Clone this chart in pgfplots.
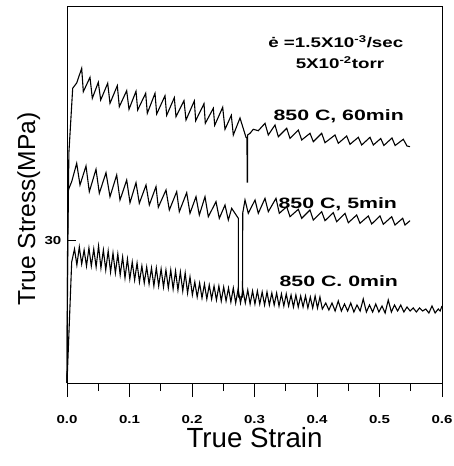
\documentclass[border=0pt]{standalone}
\usepackage{fontspec}
\setmainfont{Liberation Sans}
\usepackage{graphicx}
\usepackage{pgfplots}
\pgfplotsset{compat=1.18}
\newcommand{\wb}[1]{\scalebox{1.42}[1]{\fontsize{15}{17}\selectfont\bfseries #1}}
\newcommand{\wc}[1]{\scalebox{1.34}[1]{\fontsize{14}{16}\selectfont\bfseries #1}}
\newcommand{\tl}[1]{\scalebox{1.3}[1]{\fontsize{11.6}{13}\selectfont\bfseries #1}}
\begin{document}
\begin{tikzpicture}
\path[use as bounding box] (0,0) rectangle (454pt,466pt);
\begin{axis}[
  at={(67pt,83pt)}, anchor=south west,
  scale only axis, width=375pt, height=376pt,
  xmin=0, xmax=0.6, ymin=0, ymax=376,
  clip=false,
  axis line style={line width=1pt},
  tick align=outside,
  major tick length=14pt, minor tick length=8pt,
  tick style={black, line width=0.8pt},
  xtick={0,0.1,0.2,0.3,0.4,0.5,0.6},
  xticklabels={\tl{0.0},\tl{0.1},\tl{0.2},\tl{0.3},\tl{0.4},\tl{0.5},\tl{0.6}},
  minor xtick={0.05,0.15,0.25,0.35,0.45,0.55},
  xtick pos=left,
  ytick=\empty,
  xticklabel style={anchor=base, yshift=-26pt},
  xlabel={True Strain},
  xlabel style={font=\fontsize{27.7}{30}\selectfont, at={(axis description cs:0.5,0)}, anchor=base, yshift=-64pt},
  ylabel={True Stress(MPa)},
  ylabel style={font=\fontsize{24.6}{28}\selectfont, at={(axis description cs:-0.0853,0.4628)}, anchor=base},
]
% 850 C, 60 min
\addplot[black, line width=1.1pt] coordinates {
(0,0) (0.001,120) (0.003,230) (0.0091,294.7) (0.0155,300) (0.0235,314.7)
(0.0261,291.3) (0.0368,305.7) (0.0405,284.7) (0.0501,300.7) (0.0539,283) (0.0651,299.7) (0.0688,279.7)
(0.0805,297.3) (0.0837,276.3) (0.0955,292.3) (0.0992,273.7) (0.1104,291.7) (0.1131,273) (0.1259,289.7)
(0.1285,269.7) (0.1408,289.7) (0.1435,269) (0.1568,287.3) (0.1595,267.7) (0.1717,285.3) (0.1744,266.3)
(0.1872,282.3) (0.1904,263) (0.2037,282) (0.2059,262.3) (0.2192,279.3) (0.2213,259.7) (0.2341,274.7)
(0.2363,257.7) (0.2491,275.7) (0.2528,253.7) (0.2629,267.7) (0.2661,248) (0.2768,265) (0.2864,245.7)
(0.2880,245) (0.2882,201) (0.2888,201) (0.2890,248) (0.2928,249.7) (0.2981,253.7) (0.3061,252.3)
(0.3168,259.7) (0.3221,248) (0.3328,258) (0.3381,246.3) (0.3515,254.7) (0.3568,244.7) (0.3701,253)
(0.3755,243) (0.3888,249.7) (0.3941,241.3) (0.4075,249.7) (0.4128,240.3) (0.4288,248) (0.4341,239.7)
(0.4475,247) (0.4528,238.7) (0.4661,245.7) (0.4715,238) (0.4848,245.7) (0.4901,238) (0.5020,244.5)
(0.5070,237.5) (0.5200,245) (0.5250,237.5) (0.5381,243.7) (0.5440,237) (0.5488,236.3)
};
% 850 C, 5 min
\addplot[black, line width=1.1pt] coordinates {
(0,0) (0.001,150) (0.002,193) (0.0075,201.3) (0.0155,219.7) (0.0208,198) (0.0304,217) (0.0357,191.3)
(0.0464,213.7) (0.0517,189.7) (0.0624,210.3) (0.0688,186.3) (0.0795,208) (0.0848,183) (0.0955,203)
(0.1008,180.3) (0.1104,200.3) (0.1157,179.7) (0.1264,198) (0.1317,178) (0.1424,196.3) (0.1461,175.7)
(0.1584,193) (0.1637,173) (0.1755,191.3) (0.1797,171.3) (0.1915,190.3) (0.1968,169.7) (0.2064,186.3)
(0.2117,168) (0.2208,186.3) (0.2261,166.3) (0.2384,181.3) (0.2437,164.7) (0.2528,178) (0.2581,163)
(0.2635,174.7) (0.2741,164.7) (0.2743,86) (0.2808,86) (0.2812,170) (0.2848,183) (0.2901,169.7)
(0.3008,183) (0.3061,169.7) (0.3168,184.7) (0.3221,171.3) (0.3344,184.7) (0.3397,169.7) (0.3515,176.3)
(0.3568,166.3) (0.3701,173.7) (0.3755,164.7) (0.3888,173) (0.3941,163) (0.4075,171.3) (0.4128,162.3)
(0.4261,170.3) (0.4315,161.3) (0.4448,169.7) (0.4501,160.3) (0.4635,168) (0.4688,159.7) (0.4821,167)
(0.4875,159) (0.5008,167) (0.5061,158.7) (0.5195,166.3) (0.5248,158) (0.5371,164.7) (0.5408,158)
(0.5488,162.3)
};
% 850 C, 0 min
\addplot[black, line width=1.1pt] coordinates {
(0,0) (0.0075,121) (0.0120,134) (0.0158,118) (0.0197,136) (0.0235,119) (0.0274,133) (0.0312,117)
(0.0351,135) (0.0389,117) (0.0428,134) (0.0466,116) (0.0505,137) (0.0543,115) (0.0582,133) (0.0620,113)
(0.0659,132) (0.0697,111) (0.0736,130) (0.0774,110) (0.0813,129) (0.0851,108) (0.0890,126) (0.0928,105)
(0.0967,124) (0.1005,104) (0.1044,121) (0.1082,103) (0.1121,120) (0.1159,101) (0.1198,117) (0.1236,100)
(0.1275,116) (0.1313,99) (0.1352,115) (0.1390,97) (0.1429,115) (0.1467,97) (0.1506,114) (0.1544,96)
(0.1583,113) (0.1621,95) (0.1660,113) (0.1698,94) (0.1737,112) (0.1775,93) (0.1814,111) (0.1852,92)
(0.1891,110) (0.1929,90) (0.1968,106) (0.2006,88) (0.2045,101) (0.2083,86) (0.2122,100) (0.2160,85)
(0.2199,99) (0.2237,84) (0.2276,98) (0.2314,84) (0.2353,97) (0.2391,83) (0.2430,97) (0.2468,82)
(0.2507,96) (0.2545,82) (0.2584,95) (0.2622,81) (0.2661,95) (0.2699,80) (0.2738,94) (0.2776,80)
(0.2815,93) (0.2853,80) (0.2892,93) (0.2930,79) (0.2969,92) (0.3007,79) (0.3046,92) (0.3084,79)
(0.3123,91) (0.3161,78) (0.3200,91) (0.3238,78) (0.3277,90) (0.3315,78) (0.3354,90) (0.3392,77)
(0.3431,89) (0.3469,77) (0.3508,89) (0.3546,77) (0.3585,88) (0.3623,76) (0.3662,88) (0.3700,76)
(0.3739,87) (0.3777,76) (0.3816,87) (0.3854,75) (0.3893,86) (0.3931,75) (0.3970,87) (0.4008,75)
(0.4047,86) (0.4085,74) (0.4140,80) (0.4190,73) (0.4240,80) (0.4290,72) (0.4340,82) (0.4390,72)
(0.4440,79) (0.4490,72) (0.4540,80) (0.4590,71) (0.4640,78) (0.4690,72) (0.4740,84) (0.4790,71)
(0.4840,78) (0.4890,71) (0.4940,79) (0.4990,71) (0.5040,77) (0.5090,70) (0.5140,83) (0.5190,71)
(0.5240,78) (0.5290,72) (0.5340,78) (0.5390,71) (0.5440,76) (0.5490,72) (0.5540,75) (0.5590,71)
(0.5640,75) (0.5690,72) (0.5740,74) (0.5790,70) (0.5840,77) (0.5890,70) (0.5940,74) (0.5970,72)
(0.6000,77)
};
\node[anchor=base] at (axis cs:0.4301,335.7) {\wc{ė =1.5X10\textsuperscript{-3}/sec}};
\node[anchor=base] at (axis cs:0.4368,314) {\wc{5X10\textsuperscript{-2}torr}};
\node[anchor=base] at (axis cs:0.4347,262.3) {\wb{850 C, 60min}};
\node[anchor=base] at (axis cs:0.4333,174.7) {\wb{850 C, 5min}};
\node[anchor=base] at (axis cs:0.4349,96.3) {\wb{850 C. 0min}};
\node[anchor=east, inner sep=0pt, xshift=-5.5pt] at (axis cs:0,142.3) {\tl{30}};
\end{axis}
\begin{axis}[
  at={(67pt,83pt)}, anchor=south west,
  scale only axis, width=375pt, height=376pt,
  xmin=0, xmax=0.6, ymin=0, ymax=376,
  hide x axis, axis y line*=left,
  tick align=inside, major tick length=9pt,
  ytick={142.3}, yticklabels={},
  ytick style={black, line width=1.4pt},
]
\end{axis}
\end{tikzpicture}
\end{document}
